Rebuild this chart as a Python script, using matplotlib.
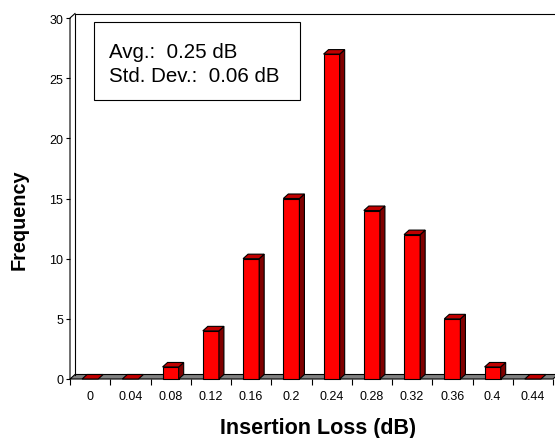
import numpy as np
import matplotlib
matplotlib.use("Agg")
import matplotlib.pyplot as plt
from matplotlib.patches import Polygon, Rectangle

plt.rcParams['font.family'] = ['Liberation Sans', 'DejaVu Sans']

categories = ["0", "0.04", "0.08", "0.12", "0.16", "0.2", "0.24", "0.28", "0.32", "0.36", "0.4", "0.44"]
frequency = [0, 0, 1, 4, 10, 15, 27, 14, 12, 5, 1, 0]
y_ticks = [0, 5, 10, 15, 20, 25, 30]
stats_lines = ["Avg.:  0.25 dB", "Std. Dev.:  0.06 dB"]
x_label = "Insertion Loss (dB)"
y_label = "Frequency"

W, H = 555, 439
fig = plt.figure(figsize=(W / 100, H / 100), dpi=100)

# axes in pixel layout (front plane)
L, R, B, T = 70, 553, 380, 19
ax = fig.add_axes([L / W, (H - B) / H, (R - L) / W, (B - T) / H])
n = len(categories)
ymax = 30
ax.set_xlim(-0.5, n - 0.5)
ax.set_ylim(0, ymax)
for s in ax.spines.values():
    s.set_visible(False)

# depth offset in data units (~5 px)
px_x = (R - L) / n
px_y = (B - T) / ymax
DX = 5 / px_x
DY = 4.5 / px_y

lw = 0.8
# floor
floor = Polygon([(-0.5, 0), (n - 0.5, 0), (n - 0.5 + DX, DY), (-0.5 + DX, DY)],
                closed=True, facecolor='#808080', edgecolor='black', lw=lw, clip_on=False, zorder=1)
ax.add_patch(floor)
# back wall + left wall lines
ax.plot([-0.5 + DX, -0.5 + DX, n - 0.5 + DX + 0.2], [DY, ymax + DY, ymax + DY], color='black', lw=lw,
        clip_on=False, zorder=1)
ax.plot([-0.5, -0.5, -0.5 + DX], [0, ymax, ymax + DY], color='black', lw=lw, clip_on=False, zorder=1)

# bars
hw = 0.2
for i, v in enumerate(frequency):
    x0, x1 = i - hw, i + hw
    if v > 0:
        ax.add_patch(Rectangle((x0, 0), x1 - x0, v, facecolor='#FF0000', edgecolor='black', lw=lw,
                               zorder=3, clip_on=False))
        ax.add_patch(Polygon([(x1, 0), (x1 + DX, DY), (x1 + DX, v + DY), (x1, v)], closed=True,
                             facecolor='#800000', edgecolor='black', lw=lw, zorder=3, clip_on=False))
    ax.add_patch(Polygon([(x0, v), (x0 + DX, v + DY), (x1 + DX, v + DY), (x1, v)], closed=True,
                         facecolor='#C00000', edgecolor='black', lw=lw, zorder=3, clip_on=False))

# ticks
ax.set_yticks(y_ticks)
ax.set_yticklabels([str(t) for t in y_ticks])
ax.tick_params(axis='y', direction='out', length=3, width=0.8, pad=2, labelsize=9)
ax.set_xticks(np.arange(-0.5, n, 1.0))
ax.set_xticklabels([''] * (n + 1))
ax.set_xticks(np.arange(n), minor=True)
ax.set_xticklabels(categories, minor=True)
ax.tick_params(axis='x', which='major', direction='out', length=4, width=0.8)
ax.tick_params(axis='x', which='minor', length=0, pad=8, labelsize=9)

# axis labels
fig.text(318 / W, (H - 434) / H, x_label, ha='center', va='baseline', fontsize=15.5, fontweight='bold')
fig.text(19 / W, (H - 220) / H, y_label, ha='center', va='center', rotation=90, fontsize=14.3,
         fontweight='bold')

# stats box
bx0, bx1, by0, by1 = 94, 300, 23, 101
fig.patches.append(Rectangle((bx0 / W, (H - by1) / H), (bx1 - bx0) / W, (by1 - by0) / H,
                             transform=fig.transFigure, facecolor='white', edgecolor='black', lw=0.8,
                             zorder=5))
fig.text(109 / W, (H - 58) / H, stats_lines[0], ha='left', va='baseline', fontsize=14.8, zorder=6)
fig.text(109 / W, (H - 82.5) / H, stats_lines[1], ha='left', va='baseline', fontsize=14.8, zorder=6)

fig.savefig("out.png", dpi=100)
